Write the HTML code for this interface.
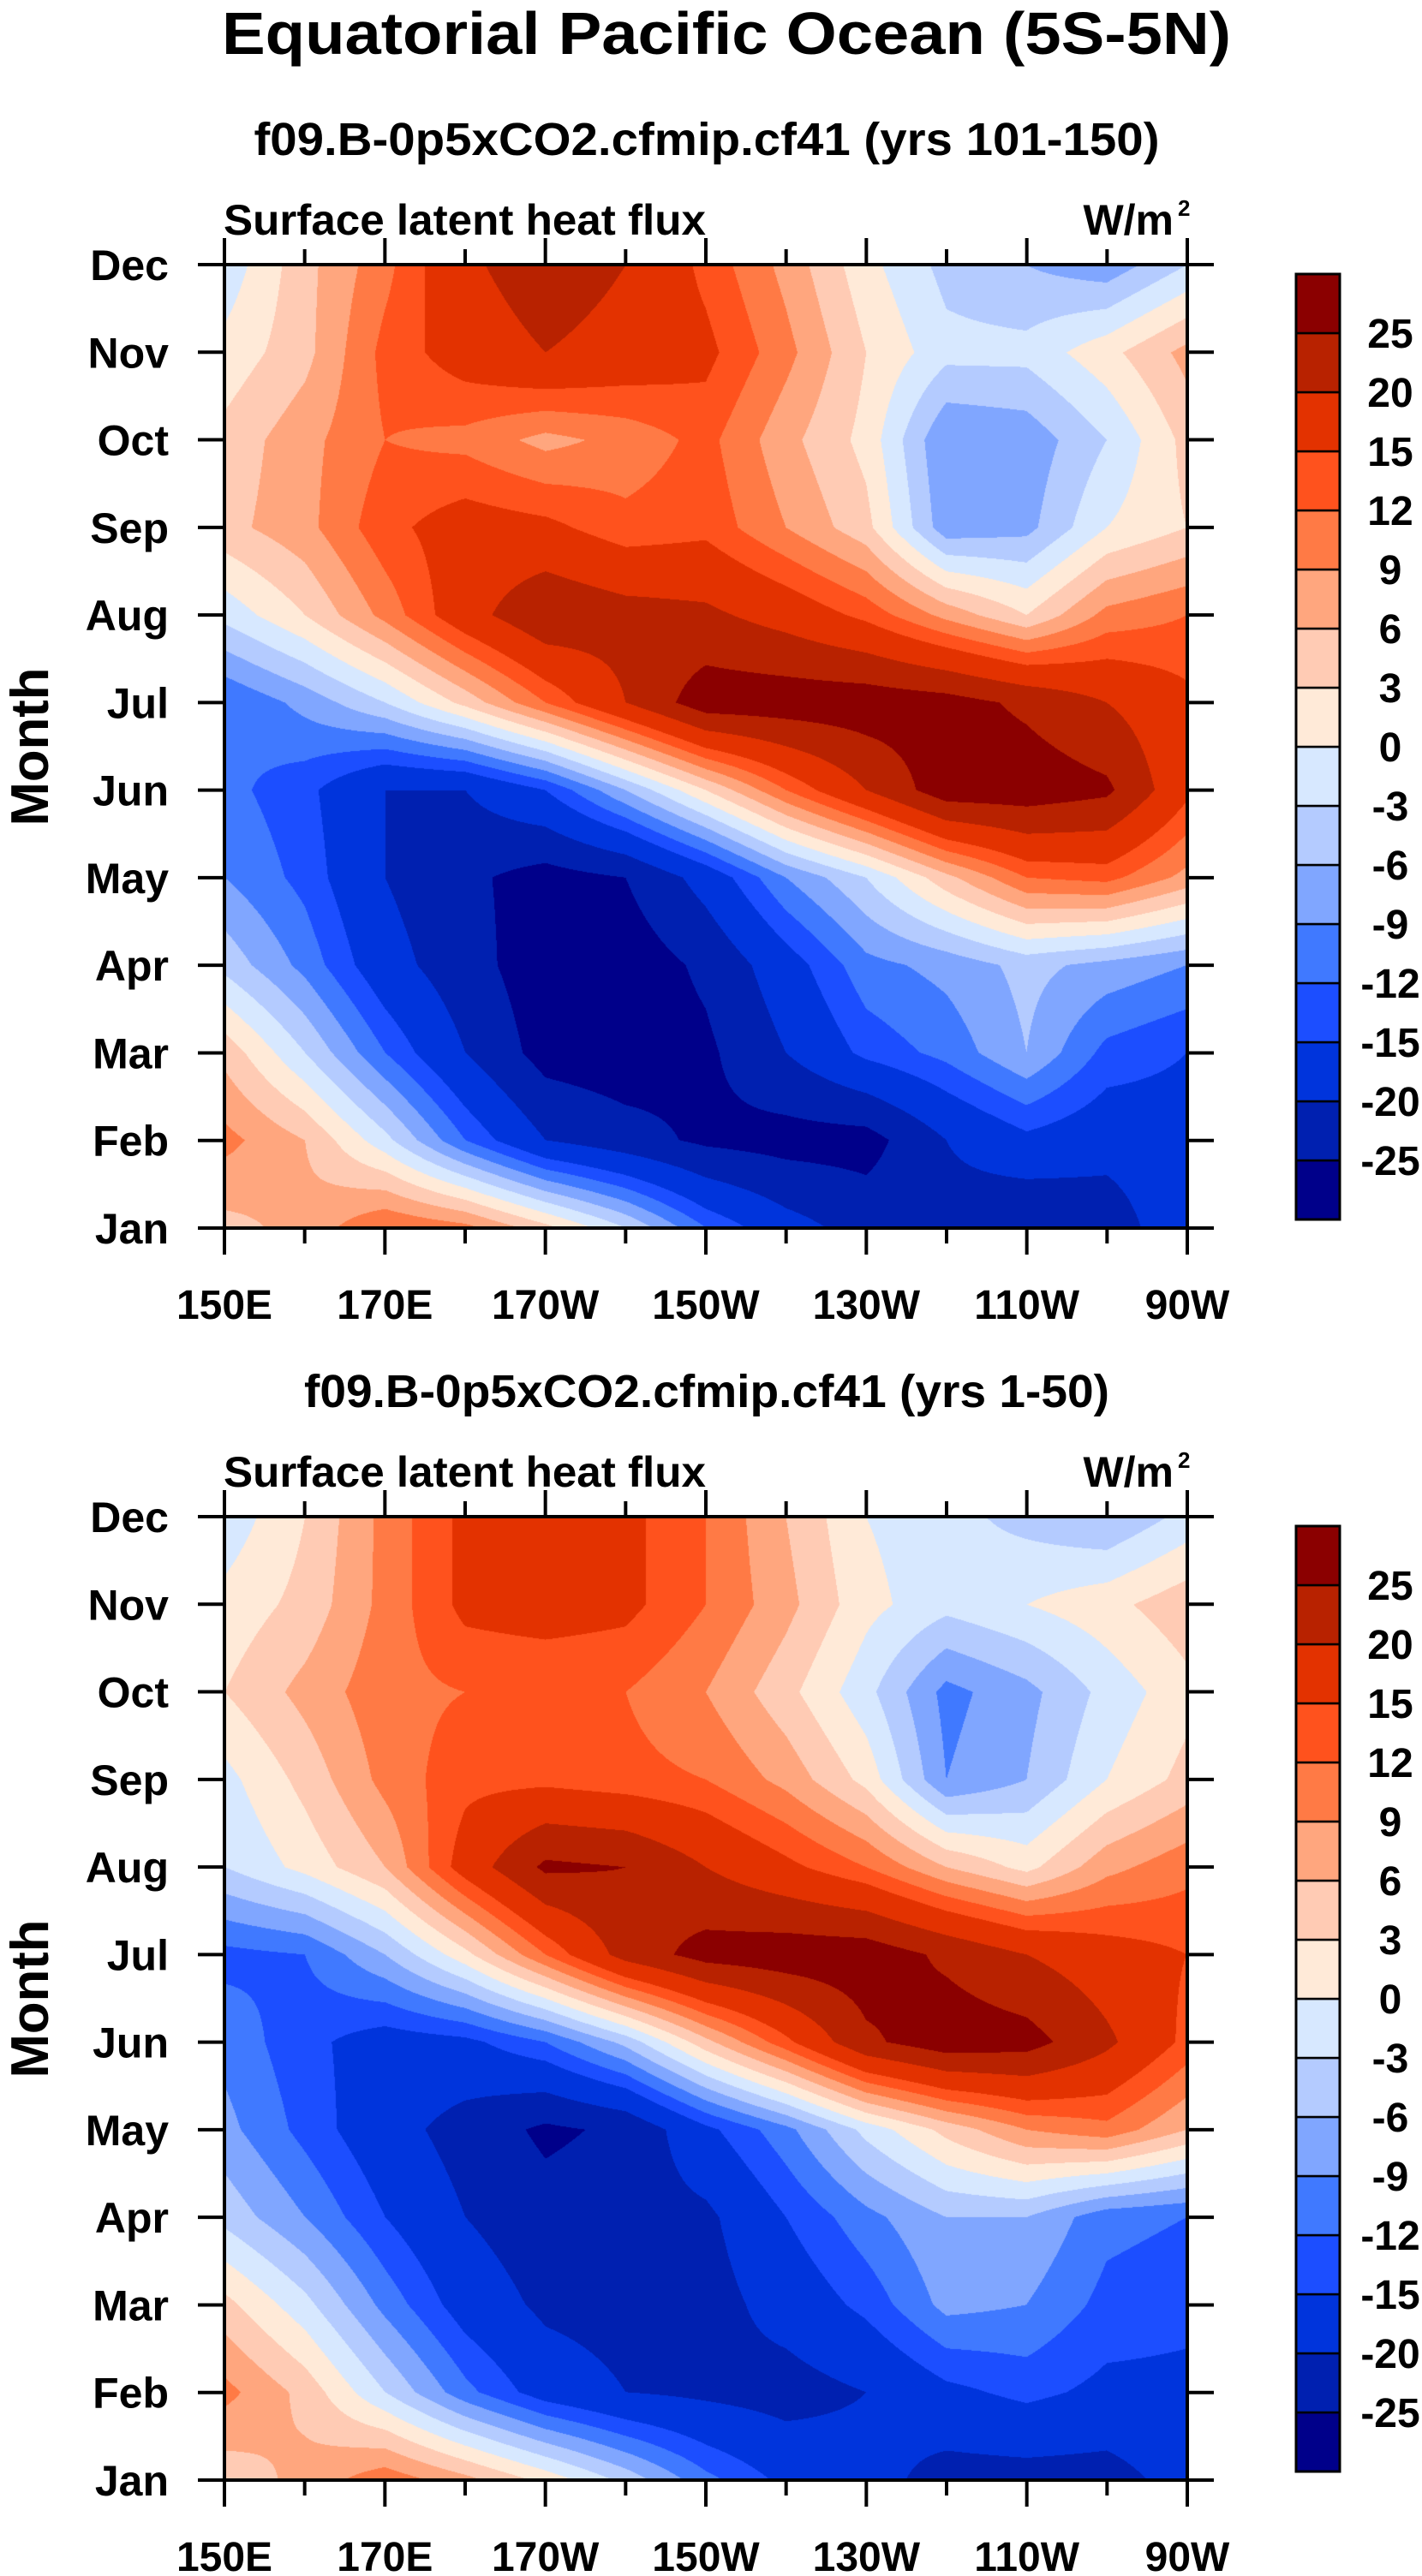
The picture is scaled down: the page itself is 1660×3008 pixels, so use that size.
<!DOCTYPE html>
<html><head><meta charset="utf-8"><style>
html,body{margin:0;padding:0;background:#fff;}
#wrap{position:relative;width:1660px;height:3008px;overflow:hidden;font-family:"Liberation Sans",sans-serif;}
canvas{position:absolute;}
svg{position:absolute;left:0;top:0;}
</style></head><body>
<div id="wrap">
<canvas id="c1" width="1124" height="1125" style="left:262px;top:309px"></canvas>
<canvas id="c2" width="1124" height="1125" style="left:262px;top:1771px"></canvas>
<svg id="svg" width="1660" height="3008"></svg>
</div>
<script>
const lons=[150,160,170,180,190,200,210,220,230,240,250,260,270];
const lonLabels=["150E","170E","170W","150W","130W","110W","90W"];
const months=["Jan","Feb","Mar","Apr","May","Jun","Jul","Aug","Sep","Oct","Nov","Dec"];
const levels=[-25,-20,-15,-12,-9,-6,-3,0,3,6,9,12,15,20,25];
const colors=["#00008a","#0020b0","#0034dc","#1c4eff","#4079ff","#80a6ff","#b4cbff","#d7e8ff","#ffead8","#ffcbb4","#ffa67e","#ff7a45","#ff521d","#e33200","#b82200","#8b0000"];
// rows Jan..Dec, columns 150E..90W
const top1=[
[5,7,12,10,4,-3,-12,-18,-22,-22,-25,-23,-16],
[10,6,-2,-12,-20,-23,-26,-27,-27,-20,-16,-18,-17],
[5,-3,-12,-20,-27,-28,-26,-20,-14,-11,-6,-13,-15],
[-4,-10,-18,-23,-28,-28,-24,-17,-10,-8,-5,-7,-9],
[-9,-13,-20,-24,-27,-25,-18,-9,-3,5,12,13,8],
[-11,-14,-20,-20,-15,-6,3,12,20,28,28,26,16],
[-12,-8,-3,4,12,20,28,28,28,27,24,20,16],
[-2,3,10,18,24,22,21,18,14,8,3,10,12],
[5,8,14,17,16,13,14,9,4,-8,-7,0,3],
[4,8,12,11,8,10,13,7,2,-9,-8,-3,4],
[1,5,13,17,20,18,16,10,3,-2,-2,2,7],
[-2,5,11,19,23,20,14,8,1,-4,-6,-8,-3]];
const bot1=[
[4,7,11,7,2,-4,-11,-16,-18,-22,-22,-22,-18],
[10,5,-3,-11,-17,-20,-21,-22,-20,-16,-14,-16,-16],
[4,-2,-10,-17,-21,-22,-22,-18,-14,-8,-9,-13,-14],
[-4,-9,-15,-20,-23,-22,-21,-15,-10,-6,-6,-11,-12],
[-8,-13,-18,-22,-26,-24,-16,-10,-2,4,9,11,6],
[-10,-14,-17,-16,-12,-5,5,14,24,28,27,21,14],
[-13,-12,-6,2,12,22,27,28,28,24,20,17,15],
[-3,1,6,17,26,25,20,16,12,6,2,8,11],
[-1,4,10,14,14,13,12,8,2,-9,-6,0,4],
[3,7,11,12,12,12,9,4,-2,-10,-7,-2,2],
[1,4,10,16,17,16,12,7,1,-2,0,2,5],
[-2,3,10,16,19,16,12,6,0,-2,-4,-6,-2]];

const PX0=262,PX1=1386,PW=1124,PH=1125;
function xScale(lon){return PX0+(lon-150)/120*PW;}
function yScale(m,top){return top+PH-(m/11)*PH;}
function hex(c){return [parseInt(c.slice(1,3),16),parseInt(c.slice(3,5),16),parseInt(c.slice(5,7),16)];}
const rgb=colors.map(hex);
function drawField(id,data){
  const cv=document.getElementById(id),ctx=cv.getContext('2d');
  const img=ctx.createImageData(PW,PH),d=img.data;
  const nc=lons.length-1,nr=months.length-1;
  for(let py=0;py<PH;py++){
    const fm=(PH-1-py)/(PH-1)*nr;let r=Math.min(Math.floor(fm),nr-1);const ty=fm-r;
    for(let px=0;px<PW;px++){
      const fl=px/(PW-1)*nc;let c=Math.min(Math.floor(fl),nc-1);const tx=fl-c;
      const v=(data[r][c]*(1-tx)+data[r][c+1]*tx)*(1-ty)+(data[r+1][c]*(1-tx)+data[r+1][c+1]*tx)*ty;
      let i=0;while(i<levels.length&&v>=levels[i])i++;
      const k=(py*PW+px)*4,col=rgb[i];d[k]=col[0];d[k+1]=col[1];d[k+2]=col[2];d[k+3]=255;
    }
  }
  ctx.putImageData(img,0,0);
}
drawField('c1',top1);drawField('c2',bot1);

const svg=document.getElementById('svg');const NS="http://www.w3.org/2000/svg";
function mk(tag,attrs,name,text){const e=document.createElementNS(NS,tag);for(const k in attrs)e.setAttribute(k,attrs[k]);


if(text!==undefined)e.textContent=text;svg.appendChild(e);return e;}
function txt(x,y,s,size,anchor,name,len){const a={x:x,y:y,'font-size':size,'font-weight':'bold','font-family':'Liberation Sans, sans-serif','text-anchor':anchor||'middle'};if(len){a.textLength=len;a.lengthAdjust='spacingAndGlyphs';}return mk('text',a,name,s);}
txt(848,63,"Equatorial Pacific Ocean (5S-5N)",70,'middle','main-title',1178);
function panel(top,sub,idx){
  const off=top-309;
  txt(825,181+off,sub,54,'middle','panel-subtitle-'+idx,sub.length>35?1057:940);
  txt(261,274+off,"Surface latent heat flux",50,'start','variable-label-'+idx,563);
  txt(1370,274+off,"W/m",50,'end','units-label-'+idx);
  mk('text',{x:1375,y:252+off,'font-size':26,'font-weight':'bold','font-family':'Liberation Sans, sans-serif'},'units-superscript-'+idx,"2");
  for(let m=0;m<months.length;m++){const y=yScale(m,top);
    mk('line',{x1:PX0-31,y1:y,x2:PX0,y2:y,stroke:'#000','stroke-width':4},'y-tick-left');
    mk('line',{x1:PX1,y1:y,x2:PX1+31,y2:y,stroke:'#000','stroke-width':4},'y-tick-right');
    txt(197,y+18,months[m],50,'end','y-tick-label');}
  for(let lon=150;lon<=270;lon+=10){const x=xScale(lon);const major=(lon-150)%20===0;const L=major?31:18;
    mk('line',{x1:x,y1:top-L,x2:x,y2:top,stroke:'#000','stroke-width':4},'x-tick-top');
    mk('line',{x1:x,y1:top+PH,x2:x,y2:top+PH+L,stroke:'#000','stroke-width':4},'x-tick-bottom');}
  lonLabels.forEach((s,i)=>{txt(xScale(150+i*20),1540+off,s,48,'middle','x-tick-label');});
  mk('rect',{x:PX0,y:top,width:PW,height:PH,fill:'none',stroke:'#000','stroke-width':4},'plot-frame-'+idx);
  const t=txt(0,0,"Month",62,'middle','y-axis-title-'+idx,185);t.setAttribute('transform','translate(56,'+(872+off)+') rotate(-90)');
  const cbT=320+off,bh=69,cbX=1513,cbW=51;
  for(let i=0;i<colors.length;i++){const y=cbT+(colors.length-1-i)*bh;
    mk('rect',{x:cbX,y:y,width:cbW,height:bh,fill:colors[i],stroke:'#000','stroke-width':2.5},'colorbar-box');}
  mk('rect',{x:cbX,y:cbT,width:cbW,height:bh*colors.length,fill:'none',stroke:'#000','stroke-width':3},'colorbar-frame-'+idx);
  levels.forEach((lv,i)=>{const y=cbT+(levels.length-i)*bh;txt(1623,y+17,String(lv),48,'middle','colorbar-label');});
}
panel(309,"f09.B-0p5xCO2.cfmip.cf41 (yrs 101-150)",1);
panel(1771,"f09.B-0p5xCO2.cfmip.cf41 (yrs 1-50)",2);
</script>
</body></html>
